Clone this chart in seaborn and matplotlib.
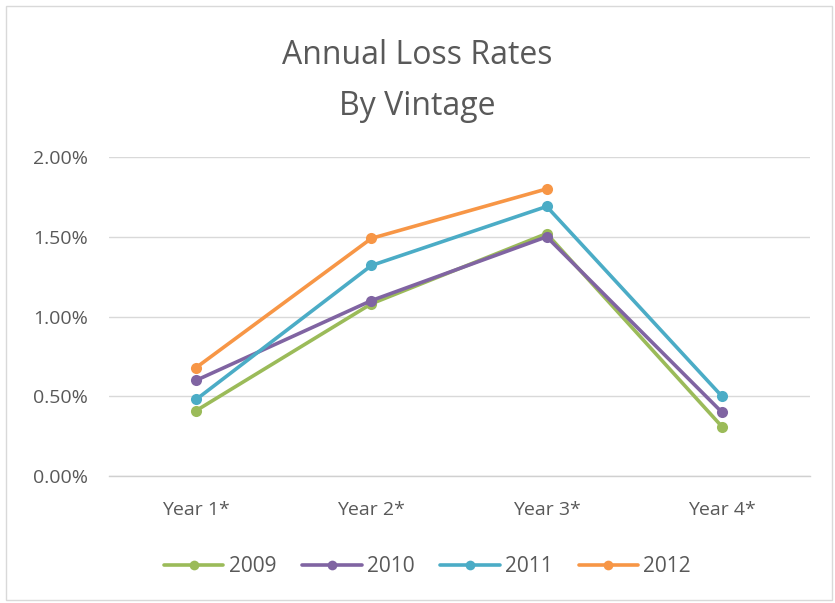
import matplotlib
matplotlib.use("Agg")
import matplotlib.pyplot as plt
import matplotlib.patches as mpatches
from matplotlib.ticker import FuncFormatter
import numpy as np
import pandas as pd
import seaborn as sns

# Loss rates (%) by year of seasoning for each vintage
years = ["Year 1*", "Year 2*", "Year 3*", "Year 4*"]
vintages = ["2009", "2010", "2011", "2012"]
rate_2009 = [0.41, 1.08, 1.52, 0.31]
rate_2010 = [0.60, 1.10, 1.50, 0.40]
rate_2011 = [0.48, 1.32, 1.69, 0.50]
rate_2012 = [0.68, 1.49, 1.80, None]
colors = ["#9BBB59", "#8064A2", "#4BACC6", "#F79646"]

rows = []
for v, vals in zip(vintages, [rate_2009, rate_2010, rate_2011, rate_2012]):
    for i, (y, r) in enumerate(zip(years, vals)):
        if r is not None:
            rows.append({"Year": y, "pos": i, "Vintage": v, "Rate": r / 100})
df = pd.DataFrame(rows)

sns.set_theme(style="white")
plt.rcParams["font.family"] = ["Open Sans", "DejaVu Sans"]

fig = plt.figure(figsize=(8.35, 6.03), dpi=100)
ax = fig.add_axes([0.13, 0.2106, 0.8395, 0.529])

sns.lineplot(data=df, x="pos", y="Rate", hue="Vintage", palette=colors,
             hue_order=vintages, marker="o", markersize=8, markeredgewidth=0,
             linewidth=2.6, ax=ax, legend=False, sort=False)

ax.set_xlim(-0.5, 3.5)
ax.set_ylim(0, 0.02)
ax.set_yticks([0, 0.005, 0.01, 0.015, 0.02])
ax.yaxis.set_major_formatter(FuncFormatter(lambda v, _: f"{v*100:.2f}%"))
ax.set_xticks(range(len(years)))
ax.set_xticklabels(years)
ax.set_xlabel("")
ax.set_ylabel("")
ax.grid(axis="y", color="#d9d9d9", linewidth=1)
ax.set_axisbelow(True)
for s in ["top", "right", "left"]:
    ax.spines[s].set_visible(False)
ax.spines["bottom"].set_color("#d0d0d0")
ax.spines["bottom"].set_linewidth(1)
ax.tick_params(axis="both", length=0, labelsize=14, colors="#595959")
ax.tick_params(axis="x", pad=18)
ax.tick_params(axis="y", pad=15)

fig.text(0.5, 0.908, "Annual Loss Rates", ha="center", va="center",
         fontsize=23, color="#595959")
fig.text(0.5, 0.823, "By Vintage", ha="center", va="center",
         fontsize=23, color="#595959")

handles = [plt.Line2D([], [], color=c, marker="o", markersize=7, linewidth=2.6,
                      markeredgewidth=0) for c in colors]
fig.legend(handles, vintages, loc="center", bbox_to_anchor=(0.512, 0.06),
           ncol=4, frameon=False, fontsize=15, labelcolor="#595959",
           handlelength=2.85, columnspacing=1.25, handletextpad=0.25)

fig.patches.append(mpatches.Rectangle((0.007, 0.005), 0.99, 0.985,
                                      transform=fig.transFigure, fill=False,
                                      edgecolor="#d9d9d9", linewidth=1))

fig.savefig("out.png", dpi=100, facecolor="white")
